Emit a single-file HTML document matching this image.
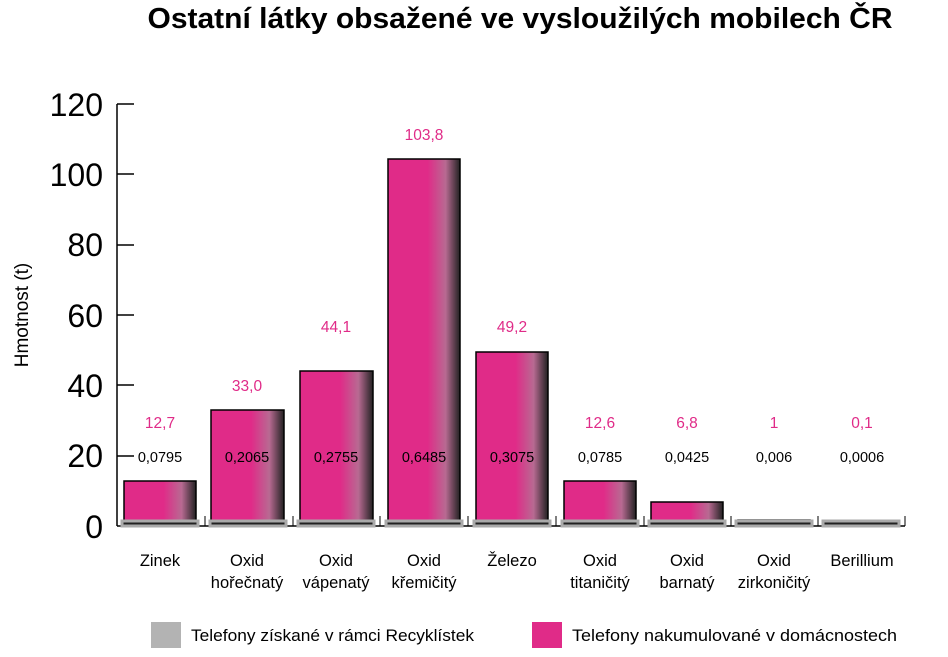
<!DOCTYPE html>
<html><head><meta charset="utf-8"><style>
body{margin:0;background:#fff;width:948px;height:652px;overflow:hidden;font-family:"Liberation Sans",sans-serif;}
</style></head><body>
<svg width="948" height="652" xmlns="http://www.w3.org/2000/svg" font-family="Liberation Sans, sans-serif">
<defs>
<linearGradient id="g" x1="0" x2="1" y1="0" y2="0">
<stop offset="0" stop-color="#e02b88"/><stop offset="0.55" stop-color="#e02b88"/>
<stop offset="0.8" stop-color="#b86a92"/><stop offset="1" stop-color="#222"/>
</linearGradient>
</defs>
<text x="520" y="28" text-anchor="middle" font-size="29" font-weight="bold" fill="#000" textLength="745" lengthAdjust="spacingAndGlyphs">Ostatní látky obsažené ve vysloužilých mobilech ČR</text>
<g font-size="32" fill="#000" text-anchor="end">
<text x="103" y="116">120</text><text x="103" y="186">100</text><text x="103" y="256">80</text>
<text x="103" y="327">60</text><text x="103" y="397">40</text><text x="103" y="467">20</text><text x="103" y="538">0</text>
</g>
<text transform="translate(28,315) rotate(-90)" text-anchor="middle" font-size="19">Hmotnost (t)</text>
<line x1="117" y1="104" x2="117" y2="526" stroke="#000" stroke-width="1.5"/>
<g stroke="#000" stroke-width="1.5">
<line x1="117" y1="104" x2="134" y2="104"/><line x1="117" y1="174" x2="134" y2="174"/><line x1="117" y1="245" x2="134" y2="245"/>
<line x1="117" y1="315" x2="134" y2="315"/><line x1="117" y1="385" x2="134" y2="385"/><line x1="117" y1="456" x2="134" y2="456"/>
<line x1="117" y1="526" x2="905" y2="526"/>
</g>
<g stroke="#000" stroke-width="1">
<line x1="205" y1="516" x2="205" y2="526"/><line x1="293" y1="516" x2="293" y2="526"/><line x1="380" y1="516" x2="380" y2="526"/>
<line x1="468" y1="516" x2="468" y2="526"/><line x1="556" y1="516" x2="556" y2="526"/><line x1="644" y1="516" x2="644" y2="526"/>
<line x1="731" y1="516" x2="731" y2="526"/><line x1="818" y1="516" x2="818" y2="526"/><line x1="905" y1="516" x2="905" y2="526"/>
</g>
<g stroke="#000" stroke-width="1.5" fill="url(#g)">
<rect x="124" y="481" width="72" height="42"/>
<rect x="211" y="410" width="73" height="113"/>
<rect x="300" y="371" width="73" height="152"/>
<rect x="388" y="159" width="72" height="364"/>
<rect x="476" y="352" width="72" height="171"/>
<rect x="564" y="481" width="72" height="42"/>
<rect x="651" y="502" width="72" height="21"/>
<rect x="738" y="520" width="72" height="3"/>
<rect x="825" y="522" width="72" height="1"/>
</g>
<g fill="#222" stroke="#aaa" stroke-width="3">
<rect x="122" y="521" width="76" height="5"/><rect x="210" y="521" width="76" height="5"/>
<rect x="298" y="521" width="76" height="5"/><rect x="386" y="521" width="76" height="5"/>
<rect x="474" y="521" width="76" height="5"/><rect x="562" y="521" width="76" height="5"/>
<rect x="649" y="521" width="76" height="5"/><rect x="736" y="521" width="76" height="5"/>
<rect x="823" y="521" width="76" height="5"/>
</g>
<g font-size="15.5" fill="#e02b88" text-anchor="middle">
<text x="160" y="428">12,7</text><text x="247" y="391">33,0</text><text x="336" y="332">44,1</text>
<text x="424" y="140">103,8</text><text x="512" y="332">49,2</text><text x="600" y="428">12,6</text>
<text x="687" y="428">6,8</text><text x="774" y="428">1</text><text x="862" y="428">0,1</text>
</g>
<g font-size="14.5" fill="#000" text-anchor="middle">
<text x="160" y="462">0,0795</text><text x="247" y="462">0,2065</text><text x="336" y="462">0,2755</text>
<text x="424" y="462">0,6485</text><text x="512" y="462">0,3075</text><text x="600" y="462">0,0785</text>
<text x="687" y="462">0,0425</text><text x="774" y="462">0,006</text><text x="862" y="462">0,0006</text>
</g>
<g font-size="16.5" fill="#000" text-anchor="middle">
<text x="160" y="566">Zinek</text>
<text x="247" y="566">Oxid</text><text x="247" y="588">hořečnatý</text>
<text x="336" y="566">Oxid</text><text x="336" y="588">vápenatý</text>
<text x="424" y="566">Oxid</text><text x="424" y="588">křemičitý</text>
<text x="512" y="566">Železo</text>
<text x="600" y="566">Oxid</text><text x="600" y="588">titaničitý</text>
<text x="687" y="566">Oxid</text><text x="687" y="588">barnatý</text>
<text x="774" y="566">Oxid</text><text x="774" y="588">zirkoničitý</text>
<text x="862" y="566">Berillium</text>
</g>
<rect x="151" y="622" width="30" height="26" fill="#b3b3b3"/>
<text x="191" y="641" font-size="17" textLength="283" lengthAdjust="spacingAndGlyphs">Telefony získané v rámci Recyklístek</text>
<rect x="532" y="622" width="30" height="26" fill="#e02b88"/>
<text x="572" y="641" font-size="17" textLength="325" lengthAdjust="spacingAndGlyphs">Telefony nakumulované v domácnostech</text>
</svg>
</body></html>
